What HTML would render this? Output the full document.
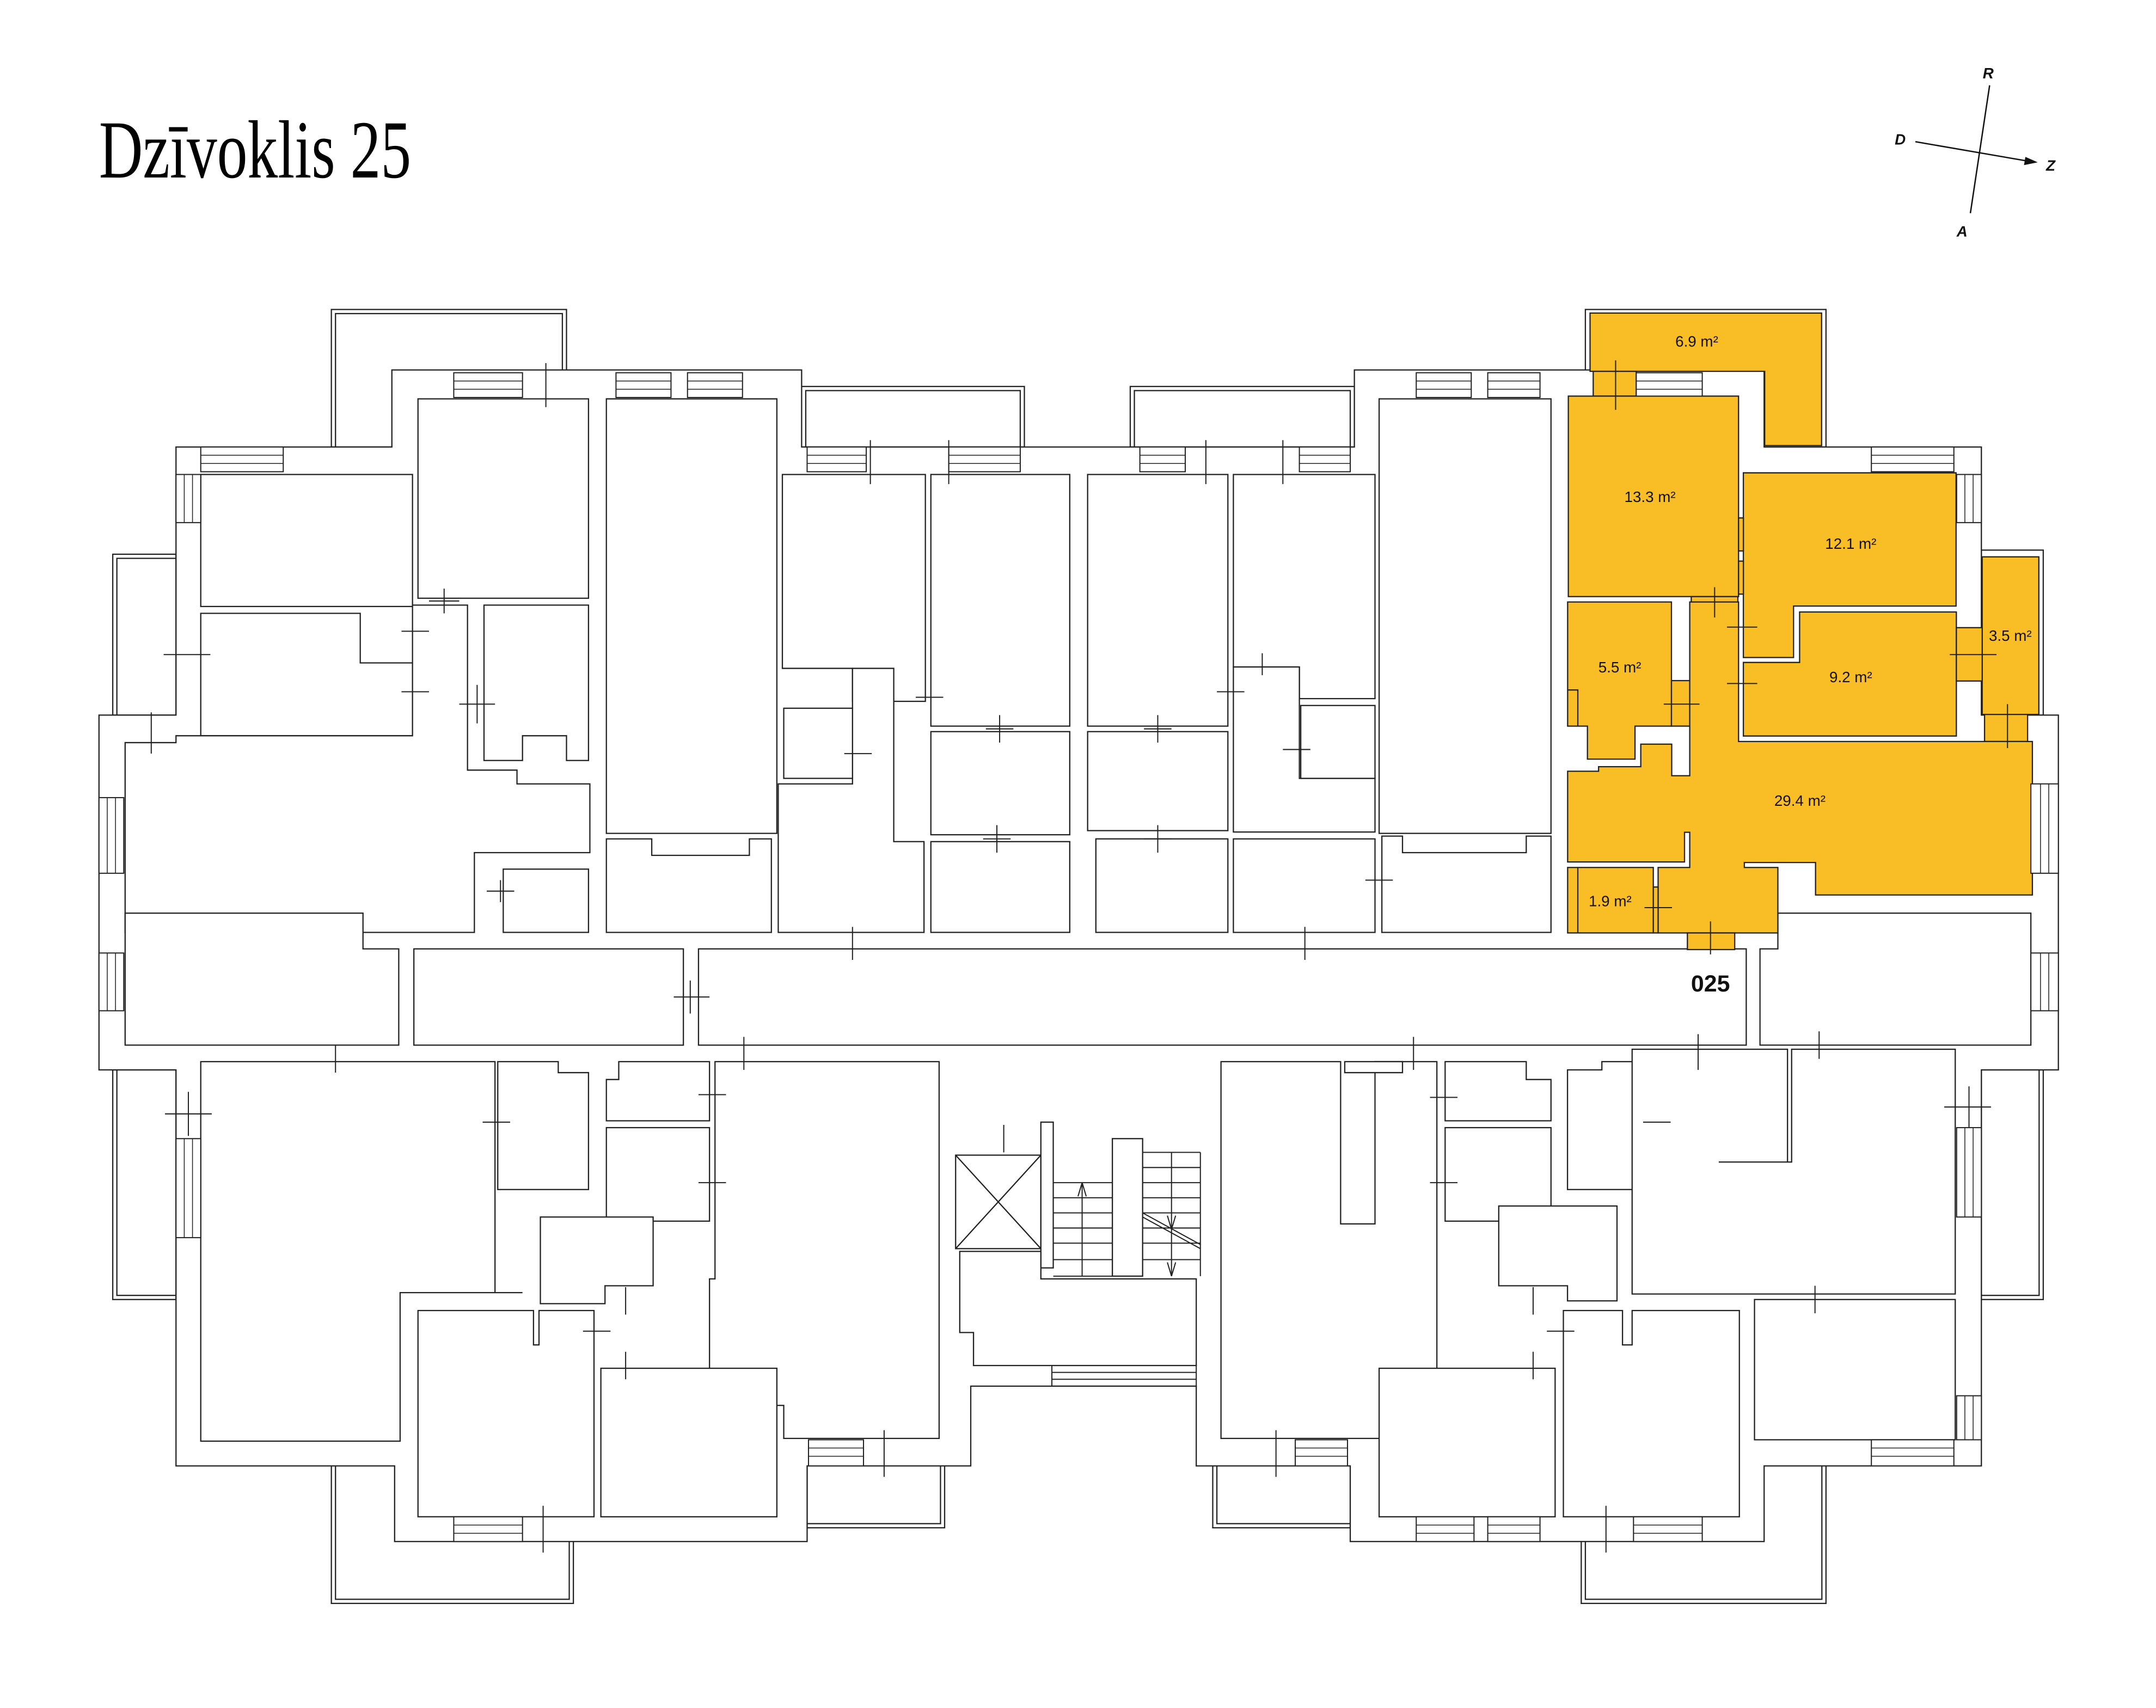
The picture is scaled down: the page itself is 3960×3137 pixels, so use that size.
<!DOCTYPE html>
<html><head><meta charset="utf-8"><style>
html,body{margin:0;padding:0;background:#fff;}
svg{display:block;}
</style></head><body>
<svg width="3960" height="3137" viewBox="0 0 1568 1242" xmlns="http://www.w3.org/2000/svg">
<rect width="1568" height="1242" fill="#fff"/>
<text x="72" y="129" font-family="Liberation Serif, serif" font-size="60" textLength="227" lengthAdjust="spacingAndGlyphs" fill="#000">Dzīvoklis 25</text>
<g stroke="#111" stroke-width="1" fill="none">
<line x1="1393" y1="103" x2="1480" y2="118"/>
<line x1="1447" y1="62" x2="1433" y2="155"/>
</g>
<polygon points="1482,118 1473,114 1472,120" fill="#111"/>
<g font-family="Liberation Sans, sans-serif" font-size="11" font-weight="bold" font-style="italic" fill="#111">
<text x="1442" y="57">R</text><text x="1378" y="105">D</text><text x="1488" y="124">Z</text><text x="1423" y="172">A</text>
</g>

<g fill="#fff" stroke="#222" stroke-width="0.9">
<rect x="241" y="225" width="171" height="100"/><rect x="244" y="228" width="165" height="97"/>
<rect x="583" y="281" width="162" height="44"/><rect x="586" y="284" width="156" height="41"/>
<rect x="822" y="281" width="163" height="44"/><rect x="825" y="284" width="157" height="41"/>
<rect x="1153" y="225" width="175" height="100"/>
<rect x="82" y="403" width="46" height="117"/><rect x="85" y="406" width="43" height="114"/>
<rect x="82" y="778" width="46" height="167"/><rect x="85" y="778" width="43" height="164"/>
<rect x="1441" y="400" width="45" height="120"/>
<rect x="1441" y="778" width="45" height="167"/><rect x="1441" y="778" width="42" height="164"/>
<rect x="241" y="1066" width="176" height="100"/><rect x="244" y="1066" width="170" height="97"/>
<rect x="587" y="1066" width="100" height="45"/><rect x="587" y="1066" width="97" height="42"/>
<rect x="882" y="1066" width="100" height="45"/><rect x="885" y="1066" width="97" height="42"/>
<rect x="1150" y="1066" width="178" height="100"/><rect x="1153" y="1066" width="172" height="97"/>
<polygon points="72,520 128,520 128,325 285,325 285,269 583,269 583,325 985,325 985,269 1283,269 1283,325 1441,325 1441,520 1497,520 1497,778 1441,778 1441,1066 1283,1066 1283,1121 982,1121 982,1066 870,1066 870,1008 706,1008 706,1066 587,1066 587,1121 287,1121 287,1066 128,1066 128,778 72,778"/>
<rect x="146" y="345" width="154" height="96"/>
<polygon points="146,446 262,446 262,482 300,482 300,535 146,535"/>
<rect x="304" y="290" width="124" height="145"/>
<polygon points="352,440 428,440 428,553 412,553 412,535 380,535 380,553 352,553"/>
<polygon points="441,290 565,290 565,606 441,606"/>
<polygon points="569,345 673,345 673,510 620,510 620,486 569,486"/>
<rect x="677" y="345" width="101" height="183"/>
<rect x="791" y="345" width="102" height="183"/>
<polygon points="897,345 1000,345 1000,508 945,508 945,485 897,485"/>
<rect x="1003" y="290" width="125" height="316"/>
<polygon points="91,540 128,540 128,535 300,535 300,440 340,440 340,560 376,560 376,570 429,570 429,620 345,620 345,678 91,678"/>
<rect x="366" y="632" width="62" height="46"/>
<polygon points="441,610 474,610 474,622 545,622 545,610 561,610 561,678 441,678"/>
<polygon points="620,486 650,486 650,612 672,612 672,678 566,678 566,570 620,570"/>
<rect x="570" y="515" width="50" height="51"/>
<rect x="677" y="532" width="101" height="75"/>
<rect x="677" y="612" width="101" height="66"/>
<rect x="791" y="532" width="102" height="72"/>
<rect x="797" y="610" width="96" height="68"/>
<polygon points="897,485 945,485 945,566 1000,566 1000,605 897,605"/>
<rect x="946" y="513" width="54" height="53"/>
<polygon points="897,610 1000,610 1000,678 897,678"/>
<polygon points="1005,608 1020,608 1020,620 1110,620 1110,608 1128,608 1128,678 1005,678"/>
<polygon points="91,664 264,664 264,690 290,690 290,760 91,760"/>
<rect x="301" y="690" width="196" height="70"/>
<rect x="508" y="690" width="762" height="70"/>
<polygon points="1280,690 1293,690 1293,664 1477,664 1477,760 1280,760"/>
<polygon points="146,772 360,772 360,940 380,940 291,940 291,1048 146,1048"/>
<polygon points="362,772 406,772 406,780 428,780 428,865 362,865"/>
<polygon points="441,785 450,785 450,772 516,772 516,815 441,815"/>
<rect x="441" y="820" width="75" height="68"/>
<polygon points="520,772 683,772 683,1046 570,1046 570,1022 516,1022 516,930 520,930"/>
<polygon points="393,885 475,885 475,935 440,935 440,948 393,948"/>
<polygon points="304,953 388,953 388,978 392,978 392,953 432,953 432,1103 304,1103"/>
<rect x="437" y="995" width="128" height="108"/>
<rect x="695" y="840" width="62" height="68"/>
<line x1="695" y1="840" x2="757" y2="908"/><line x1="757" y1="840" x2="695" y2="908"/>
<rect x="757" y="816" width="9" height="106"/>
<rect x="809" y="828" width="22" height="100"/>
<polygon points="698,910 757,910 757,930 870,930 870,993 708,993 708,969 698,969"/>
<polygon points="888,772 975,772 975,890 1000,890 1000,772 1045,772 1045,1046 888,1046"/>
<polygon points="978,772 1020,772 1020,780 978,780"/>
<polygon points="1051,772 1110,772 1110,785 1128,785 1128,815 1051,815"/>
<rect x="1051" y="820" width="77" height="68"/>
<polygon points="1140,778 1165,778 1165,772 1203,772 1203,865 1140,865"/>
<polygon points="1090,877 1176,877 1176,946 1140,946 1140,935 1090,935"/>
<polygon points="1187,763 1300,763 1300,845 1250,845 1303,845 1303,763 1422,763 1422,941 1187,941"/>
<rect x="1276" y="945" width="146" height="102"/>
<rect x="1003" y="995" width="128" height="108"/>
<polygon points="1137,953 1180,953 1180,978 1187,978 1187,953 1265,953 1265,1103 1137,1103"/>
</g>

<g stroke="#222" stroke-width="0.8" fill="none">
<line x1="766" y1="860" x2="809" y2="860"/><line x1="766" y1="871" x2="809" y2="871"/><line x1="766" y1="882" x2="809" y2="882"/><line x1="766" y1="893" x2="809" y2="893"/><line x1="766" y1="904" x2="809" y2="904"/><line x1="766" y1="916" x2="809" y2="916"/><line x1="766" y1="928" x2="809" y2="928"/>
<line x1="787" y1="860" x2="787" y2="928"/>
<line x1="831" y1="838" x2="873" y2="838"/><line x1="831" y1="849" x2="873" y2="849"/><line x1="831" y1="860" x2="873" y2="860"/><line x1="831" y1="871" x2="873" y2="871"/><line x1="831" y1="882" x2="873" y2="882"/><line x1="831" y1="893" x2="873" y2="893"/><line x1="831" y1="904" x2="873" y2="904"/><line x1="831" y1="916" x2="873" y2="916"/>
<line x1="852" y1="838" x2="852" y2="928"/><line x1="873" y1="838" x2="873" y2="928"/>
<line x1="831" y1="882" x2="873" y2="905"/><line x1="831" y1="885" x2="873" y2="908"/>
<line x1="784" y1="870" x2="787" y2="860"/><line x1="790" y1="870" x2="787" y2="860"/>
<line x1="849" y1="884" x2="852" y2="894"/><line x1="855" y1="884" x2="852" y2="894"/>
<line x1="849" y1="918" x2="852" y2="928"/><line x1="855" y1="918" x2="852" y2="928"/>
<rect x="765" y="993" width="105" height="15"/><line x1="765" y1="998" x2="870" y2="998"/><line x1="765" y1="1003" x2="870" y2="1003"/>
</g>

<g fill="#F9BE25" stroke="#222" stroke-width="0.9">
<polygon points="1156.4,227.6 1324.8,227.6 1324.8,324 1283.4,324 1283.4,270 1156.4,270"/>
<rect x="1158.7" y="270" width="31.3" height="18"/>
<rect x="1140.6" y="288" width="123.8" height="145.8"/>
<polygon points="1267.9,343.8 1422.6,343.8 1422.6,440.7 1304.4,440.7 1304.4,478.1 1267.9,478.1"/>
<polygon points="1267.9,481.7 1308.8,481.7 1308.8,445 1422.8,445 1422.8,535.2 1267.9,535.2"/>
<rect x="1441.6" y="404.9" width="41.2" height="114.6"/>
<rect x="1422.8" y="456.4" width="18.8" height="38.8"/>
<rect x="1443.3" y="519.5" width="31.3" height="19.7"/>
<polygon points="1140.1,437.7 1215.6,437.7 1215.6,528 1189.1,528 1189.1,552 1154.5,552 1154.5,528 1140.1,528"/>
<polyline points="1140.1,501.7 1147.5,501.7 1147.5,528" fill="none"/>
<rect x="1215.6" y="494.9" width="13.3" height="33.1"/>
<rect x="1230" y="433.8" width="33.9" height="4"/>
<polygon points="1228.9,437.7 1264.4,437.7 1264.4,539.2 1478.1,539.2 1478.1,650.8 1320.4,650.8 1320.4,627.2 1268.6,627.2 1268.6,630.8 1293,630.8 1293,678.4 1205.9,678.4 1205.9,630.8 1228.9,630.8 1228.9,605.2 1225.1,605.2 1225.1,626.8 1140.1,626.8 1140.1,560.8 1162.6,560.8 1162.6,557.5 1193.3,557.5 1193.3,541.1 1215.8,541.1 1215.8,564.1 1228.9,564.1"/>
<rect x="1264.4" y="376.6" width="3.5" height="24"/>
<rect x="1264.4" y="408" width="3.5" height="24"/>
<rect x="1140.1" y="630.8" width="62.3" height="47.6"/>
<line x1="1147.5" y1="630.8" x2="1147.5" y2="678.4"/>
<rect x="1202.4" y="645" width="3.5" height="33.4"/>
<rect x="1227.2" y="678.4" width="34.4" height="12.1"/>
</g>
<g font-family="Liberation Sans, sans-serif" font-size="11" fill="#111" text-anchor="middle">
<text x="1234" y="252">6.9 m²</text>
<text x="1200" y="365">13.3 m²</text>
<text x="1346" y="399">12.1 m²</text>
<text x="1346" y="496">9.2 m²</text>
<text x="1462" y="466">3.5 m²</text>
<text x="1178" y="489">5.5 m²</text>
<text x="1309" y="586">29.4 m²</text>
<text x="1171" y="659">1.9 m²</text>
</g>
<text x="1244" y="721" font-family="Liberation Sans, sans-serif" font-size="17" font-weight="bold" fill="#111" text-anchor="middle">025</text>

<g fill="#fff" stroke="#222" stroke-width="0.8">
<rect x="330" y="271" width="50" height="18"/><rect x="448" y="271" width="40" height="18"/><rect x="500" y="271" width="40" height="18"/>
<rect x="1030" y="271" width="40" height="18"/><rect x="1082" y="271" width="38" height="18"/><rect x="1190" y="271" width="48" height="17"/>
<rect x="146" y="325" width="60" height="18"/><rect x="587" y="325" width="43" height="18"/><rect x="690" y="325" width="52" height="18"/>
<rect x="829" y="325" width="33" height="18"/><rect x="945" y="325" width="37" height="18"/><rect x="1361" y="325" width="60" height="18"/>
<rect x="128" y="345" width="18" height="35"/><rect x="72" y="580" width="18" height="55"/><rect x="72" y="693" width="18" height="42"/><rect x="128" y="828" width="18" height="72"/>
<rect x="1423" y="345" width="18" height="35"/><rect x="1477" y="570" width="20" height="65"/><rect x="1477" y="693" width="20" height="42"/><rect x="1423" y="820" width="18" height="65"/><rect x="1423" y="1015" width="18" height="32"/>
<rect x="330" y="1103" width="50" height="18"/><rect x="588" y="1047" width="40" height="19"/><rect x="942" y="1047" width="38" height="19"/>
<rect x="1030" y="1103" width="42" height="18"/><rect x="1082" y="1103" width="38" height="18"/><rect x="1188" y="1103" width="50" height="18"/><rect x="1361" y="1047" width="60" height="19"/>
</g>
<g stroke="#222" stroke-width="0.6">
<path d="M330,277h50M330,283h50M448,277h40M448,283h40M500,277h40M500,283h40M1030,277h40M1030,283h40M1082,277h38M1082,283h38M1190,277h48M1190,283h48M146,331h60M146,337h60M587,331h43M587,337h43M690,331h52M690,337h52M829,331h33M829,337h33M945,331h37M945,337h37M1361,331h60M1361,337h60"/>
<path d="M134,345v35M140,345v35M78,580v55M84,580v55M78,693v42M84,693v42M134,828v72M140,828v72M1429,345v35M1435,345v35M1484,570v65M1490,570v65M1484,693v42M1490,693v42M1429,820v65M1435,820v65M1429,1015v32M1435,1015v32"/>
<path d="M330,1109h50M330,1115h50M588,1053h40M588,1059h40M942,1053h38M942,1059h38M1030,1109h42M1030,1115h42M1082,1109h38M1082,1115h38M1188,1109h50M1188,1115h50M1361,1053h60M1361,1059h60"/>
</g>

<g stroke="#222" stroke-width="0.8">
<path d="M397,264v32M312,437h22M323,428v18M292,459h20M292,503h20M119,476h34M110,518v30M334,512h26M347,498v28M354,648h20M364,640v16M633,320v32M690,320v32M877,320v32M933,320v32M717,530h20M727,520v20M832,530h20M842,520v20M715,610h20M725,600v20M832,610h20M842,600v20M614,548h20M666,507h20M933,545h20M885,503h20M918,475v16M993,640h20M620,674v24M949,674v24M490,725h26M502,713v24M244,760v20M120,810h34M137,794v32M351,816h20M541,754v24M508,796h20M508,860h20M455,936v20M424,968h20M455,983v20M730,818v20M643,1040v34M395,1095v34M928,1040v34M1028,754v24M1040,798h20M1040,860h20M1195,816h20M1235,752v26M1323,750v20M1414,805h34M1432,790v30M1320,935v20M1115,936v20M1125,968h20M1115,983v20M1168,1095v34"/>
<path d="M1175,262v36M1247,427v22M1256,456h22M1256,497h22M1210,512h26M1418,476h34M1460,512v32M1196,660h20M1244,670v24"/>
</g>
</svg>
</body></html>
